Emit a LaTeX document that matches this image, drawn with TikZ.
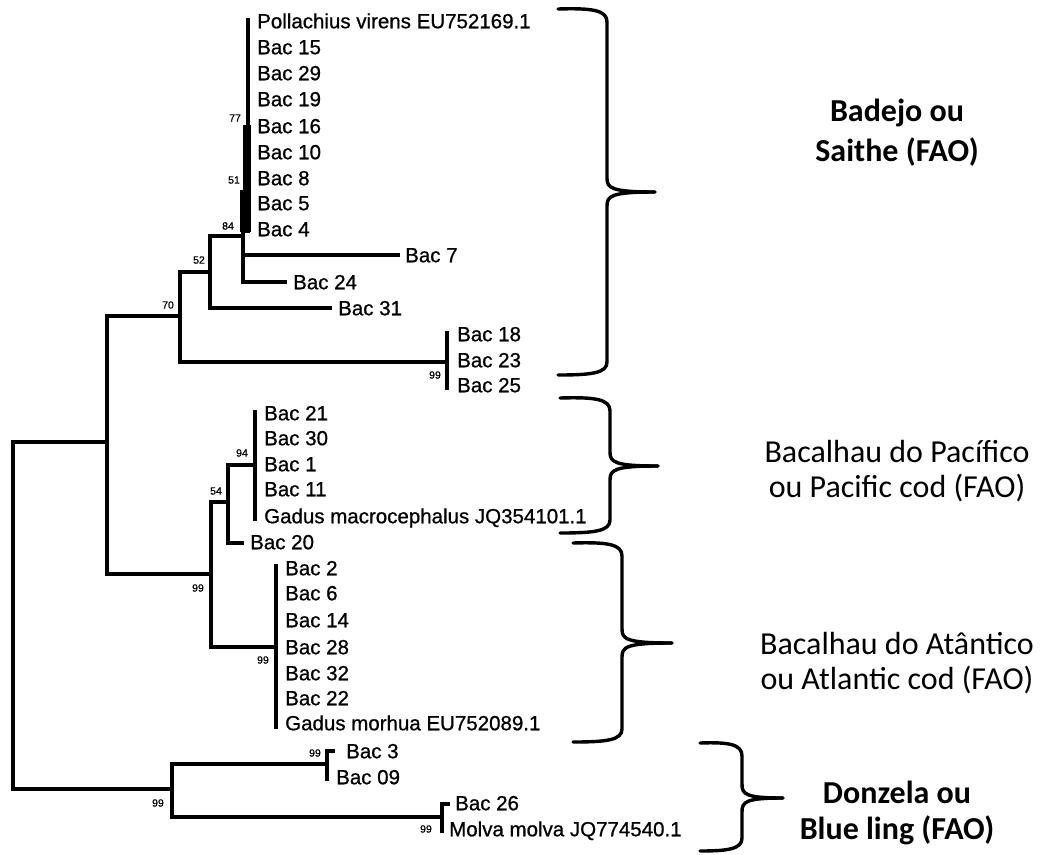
\documentclass[tikz,border=0pt]{standalone}
\usepackage{fontspec}
\setmainfont{Liberation Sans}
\newfontfamily\treefont[FakeBold=0.8]{Liberation Sans}
\newfontfamily\calfont{Carlito}
\begin{document}
\begin{tikzpicture}[x=1pt,y=-1pt,
  br/.style={line width=3.8pt, line cap=rect, line join=miter},
  leaf/.style={anchor=west, inner sep=0pt, font=\treefont\fontsize{20.5}{24}\selectfont, text height=14.5pt, text depth=0pt},
  boot/.style={inner sep=0pt, font=\treefont\fontsize{10.5}{12}\selectfont},
  grp/.style={inner sep=0pt, font=\calfont\fontsize{32}{38}\selectfont},
  grpb/.style={inner sep=0pt, font=\calfont\bfseries\fontsize{32}{38}\selectfont},
  brc/.style={line width=3.4pt, line cap=round}]
\useasboundingbox[fill=white] (0,0) rectangle (1041,854);

% ---- internal nodes
\coordinate (root) at (13,615);
\coordinate (A) at (107,442);
\coordinate (B) at (172,789);
\coordinate (N70) at (180,316);
\coordinate (N52) at (210,272);
\coordinate (N84) at (243,236);
\coordinate (P) at (248,231);
\coordinate (Ptop) at (248,20);
\coordinate (C18) at (447,362);
\coordinate (C18t) at (447,333);
\coordinate (C18b) at (447,388);
\coordinate (N99a) at (211,574);
\coordinate (N54) at (228,502);
\coordinate (N94) at (255,465);
\coordinate (N94t) at (255,412);
\coordinate (N94b) at (255,519);
\coordinate (Atl) at (276,647);
\coordinate (Atlt) at (276,566);
\coordinate (Atlb) at (276,727);
\coordinate (C3) at (327,764);
\coordinate (C3t) at (327,751);
\coordinate (C3b) at (327,779);
\coordinate (C3s) at (333,751);
\coordinate (C26) at (442,817);
\coordinate (C26t) at (442,804);
\coordinate (C26b) at (442,831);
\coordinate (C26s) at (448,804);
% leaf ends
\coordinate (L7) at (398,255);
\coordinate (L24) at (285,282);
\coordinate (L31) at (330,308);
\coordinate (L20) at (242,543);

% ---- branches
\draw[br] (A) -| (root) |- (B);
\draw[br] (N70) -| (A) |- (N99a);
\draw[br] (N52) -| (N70) |- (C18);
\draw[br] (N84) -| (N52) |- (L31);
\draw[br] (P) -| (N84) |- (L24);
\draw[br] (N84) |- (L7);
\draw[br] (Ptop) -- (P);
\fill (243,125) rectangle (250.5,232);
\fill (240,190) rectangle (250.5,232);
\draw[br] (C18t) -- (C18b);
\draw[br] (N54) -| (N99a) |- (Atl);
\draw[br] (N94) -| (N54) |- (L20);
\draw[br] (N94t) -- (N94b);
\draw[br] (Atlt) -- (Atlb);
\draw[br] (C3) -| (B) |- (C26);
\draw[br] (C3b) -- (C3t) -- (C3s);
\draw[br] (C26b) -- (C26t) -- (C26s);

% ---- leaf labels
\node[leaf] (lPv) at (257,21) {Pollachius virens EU752169.1};
\node[leaf] (l15) at (257,47) {Bac 15};
\node[leaf] (l29) at (257,73) {Bac 29};
\node[leaf] (l19) at (257,99) {Bac 19};
\node[leaf] (l16) at (257,126) {Bac 16};
\node[leaf] (l10) at (257,152) {Bac 10};
\node[leaf] (l8) at (257,178) {Bac 8};
\node[leaf] (l5) at (257,203) {Bac 5};
\node[leaf] (l4) at (257,229) {Bac 4};
\node[leaf] (l7) at (405,255) {Bac 7};
\node[leaf] (l24) at (293,282) {Bac 24};
\node[leaf] (l31) at (338,308) {Bac 31};
\node[leaf] (l18) at (457,334) {Bac 18};
\node[leaf] (l23) at (457,360) {Bac 23};
\node[leaf] (l25) at (457,385) {Bac 25};
\node[leaf] (l21) at (264,413) {Bac 21};
\node[leaf] (l30) at (264,438) {Bac 30};
\node[leaf] (l1) at (264,464) {Bac 1};
\node[leaf] (l11) at (264,489) {Bac 11};
\node[leaf] (lGm) at (264,516) {Gadus macrocephalus JQ354101.1};
\node[leaf] (l20) at (250,542) {Bac 20};
\node[leaf] (l2) at (285,568) {Bac 2};
\node[leaf] (l6) at (285,593) {Bac 6};
\node[leaf] (l14) at (285,620) {Bac 14};
\node[leaf] (l28) at (285,647) {Bac 28};
\node[leaf] (l32) at (285,673) {Bac 32};
\node[leaf] (l22) at (285,698) {Bac 22};
\node[leaf] (lGmo) at (285,723) {Gadus morhua EU752089.1};
\node[leaf] (l3) at (346,751) {Bac 3};
\node[leaf] (l09) at (336,777) {Bac 09};
\node[leaf] (l26) at (455,803) {Bac 26};
\node[leaf] (lMm) at (449,829) {Molva molva JQ774540.1};

% ---- bootstrap values
\node[boot] (b77) at (235,118) {77};
\node[boot] (b51) at (234,180) {51};
\node[boot] (b84) at (228,226) {84};
\node[boot] (b52) at (199,260) {52};
\node[boot] (b70) at (168,305) {70};
\node[boot] (b99a) at (435,375) {99};
\node[boot] (b94) at (242,453) {94};
\node[boot] (b54) at (216,491) {54};
\node[boot] (b99b) at (198,588) {99};
\node[boot] (b99c) at (263,660) {99};
\node[boot] (b99d) at (315,753) {99};
\node[boot] (b99e) at (158,803) {99};
\node[boot] (b99f) at (426,829) {99};

% ---- braces
\draw[brc] (558,9) .. controls (592,8) and (607,10) .. (607,22) -- (607,178)
  .. controls (607,188) and (611,192) .. (655,192);
\draw[brc] (655,192) .. controls (611,192) and (607,196) .. (607,206) -- (607,362)
  .. controls (607,373) and (592,375) .. (558,375);
\draw[brc] (560,398) .. controls (595,397) and (610,399) .. (610,411) -- (610,452)
  .. controls (610,462) and (614,466) .. (658,466);
\draw[brc] (658,466) .. controls (614,466) and (610,470) .. (610,480) -- (610,520)
  .. controls (610,531) and (595,533) .. (560,533);
\draw[brc] (573,543) .. controls (607,542) and (622,544) .. (622,556) -- (622,629)
  .. controls (622,639) and (626,643) .. (672,643);
\draw[brc] (672,643) .. controls (626,643) and (622,647) .. (622,657) -- (622,729)
  .. controls (622,740) and (607,742) .. (573,742);
\draw[brc] (700,743) .. controls (728,742) and (742,744) .. (742,756) -- (742,784)
  .. controls (742,794) and (745,798) .. (783,798);
\draw[brc] (783,798) .. controls (745,798) and (742,802) .. (742,812) -- (742,838)
  .. controls (742,849) and (728,851) .. (700,851);

% ---- group labels
\node[grpb] (g1a) at (897,113) {Badejo ou};
\node[grpb] (g1b) at (897,152) {Saithe (FAO)};
\node[grp] (g2a) at (897,452) {Bacalhau do Pacífico};
\node[grp] (g2b) at (897,488) {ou Pacific cod (FAO)};
\node[grp] (g3a) at (897,643) {Bacalhau do Atântico};
\node[grp] (g3b) at (897,680) {ou Atlantic cod (FAO)};
\node[grpb] (g4a) at (897,792) {Donzela ou};
\node[grpb] (g4b) at (897,830) {Blue ling (FAO)};
\end{tikzpicture}
\end{document}
